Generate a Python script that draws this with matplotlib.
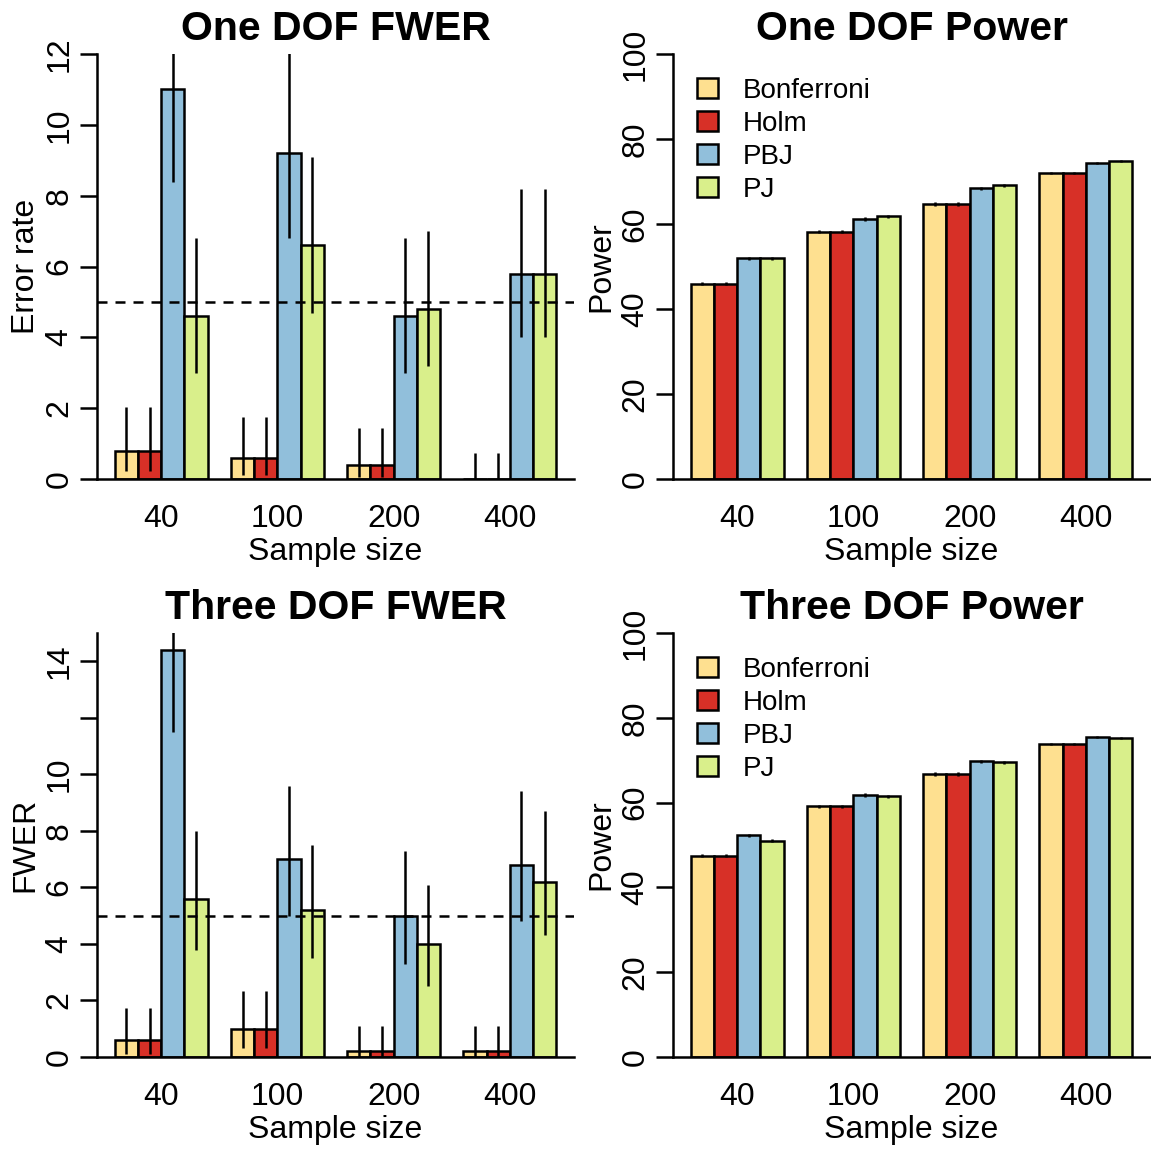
import matplotlib
matplotlib.use("Agg")
import matplotlib.pyplot as plt
import numpy as np

plt.rcParams['font.family'] = ['Liberation Sans', 'DejaVu Sans']

sample_sizes = ['40', '100', '200', '400']
methods = ['Bonferroni', 'Holm', 'PBJ', 'PJ']
colors = ['#fee090', '#d73027', '#91bfdb', '#d9ef8b']

# rows follow methods, columns follow sample_sizes (values in %)
fwer1_rate = [[0.8, 0.6, 0.4, 0.0],
              [0.8, 0.6, 0.4, 0.0],
              [11.0, 9.2, 4.6, 5.8],
              [4.6, 6.6, 4.8, 5.8]]
fwer1_lo = [[0.22, 0.12, 0.05, 0.0],
            [0.22, 0.12, 0.05, 0.0],
            [8.4, 6.8, 3.0, 4.0],
            [3.0, 4.7, 3.2, 4.0]]
fwer1_hi = [[2.04, 1.74, 1.44, 0.74],
            [2.04, 1.74, 1.44, 0.74],
            [14.1, 12.1, 6.8, 8.2],
            [6.8, 9.1, 7.0, 8.2]]

fwer3_rate = [[0.6, 1.0, 0.2, 0.2],
              [0.6, 1.0, 0.2, 0.2],
              [14.4, 7.0, 5.0, 6.8],
              [5.6, 5.2, 4.0, 6.2]]
fwer3_lo = [[0.12, 0.33, 0.01, 0.01],
            [0.12, 0.33, 0.01, 0.01],
            [11.5, 5.0, 3.3, 4.8],
            [3.8, 3.5, 2.5, 4.3]]
fwer3_hi = [[1.74, 2.32, 1.11, 1.11],
            [1.74, 2.32, 1.11, 1.11],
            [17.8, 9.6, 7.3, 9.4],
            [8.0, 7.5, 6.1, 8.7]]

power1 = [[46.0, 58.2, 64.7, 72.0],
          [46.0, 58.2, 64.7, 72.0],
          [51.9, 61.2, 68.4, 74.4],
          [51.9, 61.8, 69.1, 74.8]]
power1_err = [[0.4, 0.4, 0.4, 0.3],
              [0.4, 0.4, 0.4, 0.3],
              [0.4, 0.4, 0.4, 0.3],
              [0.4, 0.4, 0.4, 0.3]]

power3 = [[47.5, 59.1, 66.7, 73.8],
          [47.5, 59.1, 66.7, 73.8],
          [52.3, 61.8, 69.7, 75.5],
          [51.0, 61.5, 69.5, 75.2]]
power3_err = [[0.4, 0.4, 0.4, 0.3],
              [0.4, 0.4, 0.4, 0.3],
              [0.4, 0.4, 0.4, 0.3],
              [0.4, 0.4, 0.4, 0.3]]

W, H = 1151, 1149
LW = 1.8
fig = plt.figure(figsize=(W / 100, H / 100), dpi=100)


def px_axes(left, top, right, bottom):
    return fig.add_axes([left / W, 1 - bottom / H, (right - left) / W, (bottom - top) / H])


def draw_panel(ax, vals, lo, hi, ytop, yticks, ylabels, ylabel, title, ref=None, legend=False):
    group = np.arange(len(sample_sizes)) * 5
    for j, m in enumerate(methods):
        x = group + 1.5 + j
        ax.bar(x, vals[j], width=1, color=colors[j], edgecolor='black',
               linewidth=LW, label=m, zorder=2)
        ax.vlines(x, lo[j], hi[j], color='black', linewidth=LW, zorder=3)
    if ref is not None:
        ax.axhline(ref, color='black', linewidth=LW, linestyle=(0, (4, 3.2)), zorder=4)

    ax.set_xlim(0.24, 20.76)
    ax.set_ylim(0, ytop)
    ax.set_xticks(group + 3)
    ax.set_xticklabels(sample_sizes)
    ax.tick_params(axis='x', length=0, pad=18, labelsize=23)
    ax.set_yticks(yticks)
    ax.set_yticklabels(ylabels, rotation=90, va='center')
    ax.tick_params(axis='y', length=12.2, width=LW, pad=4, labelsize=23)

    for side in ['top', 'right']:
        ax.spines[side].set_visible(False)
    ax.spines['left'].set_bounds(0, ytop)
    ax.spines['left'].set_linewidth(LW)
    ax.spines['bottom'].set_linewidth(LW)

    ax.set_xlabel('Sample size', fontsize=23)
    ax.xaxis.set_label_coords(0.5, -0.136)
    ax.set_ylabel(ylabel, fontsize=23)
    ax.yaxis.set_label_coords(-0.118, 0.5)
    ax.set_title(title, fontsize=29.5, fontweight='bold', pad=10)

    if legend:
        ax.legend(loc='upper left', bbox_to_anchor=(0.05, 0.944), frameon=False,
                  fontsize=20, handlelength=0.75, handleheight=0.75,
                  handletextpad=0.9, labelspacing=0.25, borderpad=0, borderaxespad=0)


def minus(a, b):
    return [[v - e for v, e in zip(r, s)] for r, s in zip(a, b)]


def plus(a, b):
    return [[v + e for v, e in zip(r, s)] for r, s in zip(a, b)]


ax1 = px_axes(97, 54, 574, 479)
draw_panel(ax1, fwer1_rate, fwer1_lo, fwer1_hi, 12, [0, 2, 4, 6, 8, 10, 12],
           ['0', '2', '4', '6', '8', '10', '12'], 'Error rate', 'One DOF FWER', ref=5)

ax2 = px_axes(673, 54, 1150, 479)
draw_panel(ax2, power1, minus(power1, power1_err), plus(power1, power1_err), 100,
           [0, 20, 40, 60, 80, 100], ['0', '20', '40', '60', '80', '100'],
           'Power', 'One DOF Power', legend=True)

ax3 = px_axes(97, 633, 574, 1057)
draw_panel(ax3, fwer3_rate, fwer3_lo, fwer3_hi, 15, [0, 2, 4, 6, 8, 10, 12, 14],
           ['0', '2', '4', '6', '8', '10', '', '14'], 'FWER', 'Three DOF FWER', ref=5)

ax4 = px_axes(673, 633, 1150, 1057)
draw_panel(ax4, power3, minus(power3, power3_err), plus(power3, power3_err), 100,
           [0, 20, 40, 60, 80, 100], ['0', '20', '40', '60', '80', '100'],
           'Power', 'Three DOF Power', legend=True)

fig.savefig('out.png', dpi=100)
